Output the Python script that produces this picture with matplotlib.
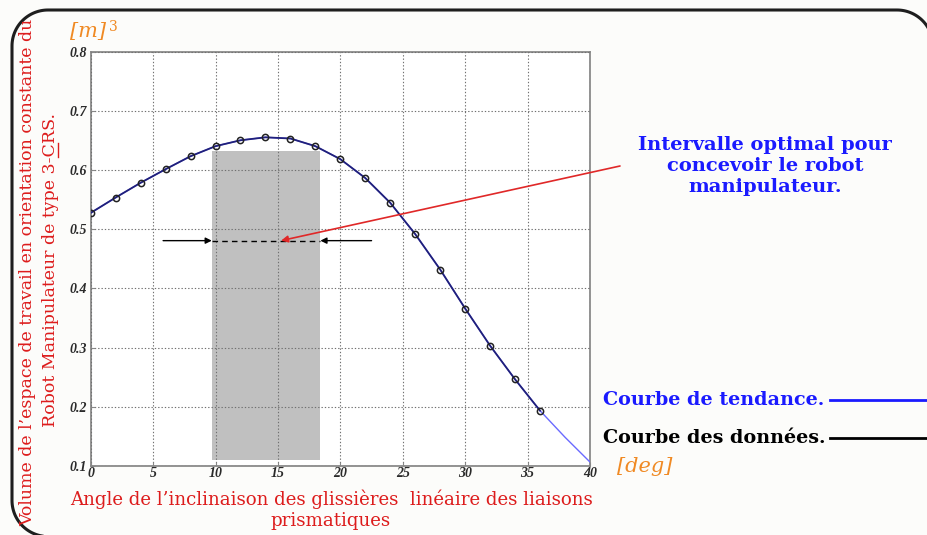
import matplotlib
matplotlib.use("Agg")
import numpy as np
import matplotlib.pyplot as plt
from matplotlib.patches import Rectangle
from matplotlib.lines import Line2D

# --- data ---------------------------------------------------------------
angle_deg = [0, 2, 4, 6, 8, 10, 12, 14, 16, 18, 20, 22, 24, 26, 28, 30, 32, 34, 36]
volume_m3 = [0.528, 0.554, 0.579, 0.602, 0.624, 0.641, 0.651, 0.656, 0.654, 0.641,
             0.619, 0.587, 0.545, 0.492, 0.432, 0.366, 0.303, 0.246, 0.193]
trend_deg = [0, 2, 4, 6, 8, 10, 12, 14, 16, 18, 20, 22, 24, 26, 28, 30, 32, 34, 36, 38, 40]
trend_m3 = [0.528, 0.554, 0.579, 0.602, 0.624, 0.641, 0.651, 0.656, 0.654, 0.641,
            0.619, 0.587, 0.545, 0.492, 0.432, 0.366, 0.303, 0.246, 0.193, 0.148, 0.106]
x_ticks = [0, 5, 10, 15, 20, 25, 30, 35, 40]
y_ticks = [0.1, 0.2, 0.3, 0.4, 0.5, 0.6, 0.7, 0.8]
optimal_range = [9.7, 18.4]      # degrees
optimal_band = [0.110, 0.633]    # volume span of the shaded band
interval_level = 0.481
arrow_tails = [5.8, 22.5]

W, H = 928, 535
fig = plt.figure(figsize=(W / 100, H / 100), dpi=100, facecolor="#fcfcfa")


def fx(px):
    return px / W


def fy(py):
    return 1 - py / H


# pixel-space overlay (y measured from the top) for the rounded outer frame
bg = fig.add_axes([0, 0, 1, 1])
bg.set_xlim(0, W)
bg.set_ylim(H, 0)
bg.set_autoscale_on(False)
bg.axis("off")


def frame_outline(left, top, right, bottom, r, n=30):
    # three rounded corners; the lower-right one lies outside the canvas
    xs, ys = [right + 20, right + 20], [bottom + 20, bottom]
    xs += [left + r]
    ys += [bottom]
    for (cx, cy), a0, a1 in [((left + r, bottom - r), 90, 180),
                             ((left + r, top + r), 180, 270),
                             ((right - r, top + r), 270, 360)]:
        t = np.radians(np.linspace(a0, a1, n))
        xs.extend(cx + r * np.cos(t))
        ys.extend(cy + r * np.sin(t))
    xs.append(right)
    ys.append(bottom + 20)
    return xs, ys


fxs, fys = frame_outline(12, 10, 933, 536.5, 36)
bg.plot(fxs, fys, color="#1e1e1e", linewidth=2.2, solid_joinstyle="round")

ax = fig.add_axes([fx(90.7), fy(465.6), fx(590) - fx(90.7), fy(52.3) - fy(465.6)])
ax.set_facecolor("white")
ax.set_xlim(0, 40)
ax.set_ylim(0.1, 0.8)
ax.set_xticks(x_ticks)
ax.set_yticks(y_ticks)
ax.set_xticklabels([str(t) for t in x_ticks])
ax.set_yticklabels([f"{t:.1f}" for t in y_ticks])
for lab in ax.get_xticklabels() + ax.get_yticklabels():
    lab.set_fontfamily("Liberation Serif")
    lab.set_fontweight("bold")
    lab.set_fontstyle("italic")
    lab.set_fontsize(10)
    lab.set_color("#2a2a2a")
ax.tick_params(direction="in", length=3, color="#888888", pad=1)
ax.tick_params(axis="y", pad=3)
for s in ax.spines.values():
    s.set_color("#8a8a8a")
    s.set_linewidth(1.3)
ax.grid(True, linestyle=(0, (1.2, 1.8)), color="#707070", linewidth=0.8)
ax.set_axisbelow(False)

# optimal interval band
ax.add_patch(Rectangle((optimal_range[0], optimal_band[0]),
                       optimal_range[1] - optimal_range[0],
                       optimal_band[1] - optimal_band[0],
                       facecolor="#c0c0c0", edgecolor="none", zorder=1))

# trend and data curves
ax.plot(trend_deg, trend_m3, color="#6a6aff", linewidth=1.0, zorder=3)
ax.plot(angle_deg, volume_m3, color="#20207a", linewidth=1.3, marker="o",
        markersize=4.5, markerfacecolor="none", markeredgecolor="#222222",
        markeredgewidth=1.1, zorder=4)

# interval markers
ax.plot(optimal_range, [interval_level] * 2, color="black", linestyle=(0, (4, 3)),
        linewidth=1.0, zorder=4)
for tail, head in zip(arrow_tails, optimal_range):
    ax.annotate("", xy=(head, interval_level), xytext=(tail, interval_level),
                arrowprops=dict(arrowstyle="-|>", color="black", lw=1.0, mutation_scale=9,
                                shrinkA=0, shrinkB=0), zorder=5)

# red pointer from the note to the interval
ax.annotate("", xy=(sum(optimal_range) / 2 + 1.2, interval_level),
            xytext=(fx(620), fy(166)), textcoords="figure fraction",
            arrowprops=dict(arrowstyle="-|>", color="#e02828", lw=1.2, mutation_scale=10,
                            shrinkA=0, shrinkB=0), zorder=6, annotation_clip=False)

serif = "DejaVu Serif"
red = "#dd1c1c"
orange = "#f08a24"

# explanatory note
fig.text(fx(765), fy(166), "Intervalle optimal pour\nconcevoir le robot\nmanipulateur.",
         color="#1a1aff", fontsize=14, fontweight="bold", family=serif,
         ha="center", va="center", linespacing=1.2)

# legend entries
fig.text(fx(603), fy(400), "Courbe de tendance.", color="#1a1aff", fontsize=13.8,
         fontweight="bold", family=serif, ha="left", va="center")
fig.add_artist(Line2D([fx(830), fx(928)], [fy(400), fy(400)], color="#1a1aff",
                      linewidth=2.0, transform=fig.transFigure))
fig.text(fx(603), fy(438), "Courbe des données.", color="black", fontsize=13.8,
         fontweight="bold", family=serif, ha="left", va="center")
fig.add_artist(Line2D([fx(830), fx(928)], [fy(438), fy(438)], color="black",
                      linewidth=2.0, transform=fig.transFigure))

# units
fig.text(fx(70), fy(32), r"[m]", color=orange, fontsize=15, fontstyle="italic",
         family=serif, ha="left", va="center")
fig.text(fx(109), fy(27), "3", color=orange, fontsize=10, family=serif,
         ha="left", va="center")
fig.text(fx(617), fy(467), "[deg]", color=orange, fontsize=15, fontstyle="italic",
         family=serif, ha="left", va="center")

# axis titles
fig.text(fx(331), fy(510), "Angle de l\u2019inclinaison des glissi\u00e8res  lin\u00e9aire des liaisons\nprismatiques",
         color=red, fontsize=13.1, family=serif, ha="center", va="center", linespacing=1.2)
fig.text(fx(28), fy(272), "Volume de l\u2019espace de travail en orientation constante du",
         color=red, fontsize=12.5, family=serif, rotation=90, ha="center", va="center")

ylab2 = "Robot Manipulateur de type 3-CRS."
y2_center = 270
fig.text(fx(51), fy(y2_center), ylab2,
         color=red, fontsize=12.5, family=serif, rotation=90, ha="center", va="center")

# underline the "C" of 3-CRS by measuring the unrotated glyph run
renderer = fig.canvas.get_renderer()


def text_width(s):
    t = fig.text(0, 0, s, fontsize=12.5, family=serif)
    w = t.get_window_extent(renderer).width
    t.remove()
    return w


full_w = text_width(ylab2)
pre_w = text_width("Robot Manipulateur de type 3-")
c_w = text_width("C")
start = y2_center + full_w / 2 - pre_w
bg.plot([58, 58], [start, start - c_w], color=red, linewidth=1.0)

fig.savefig("out.png", dpi=100, facecolor=fig.get_facecolor())
